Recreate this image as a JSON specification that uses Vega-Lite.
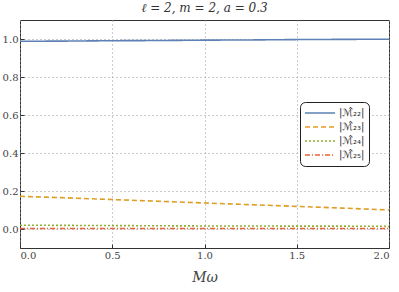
{
  "$schema": "https://vega.github.io/schema/vega-lite/v6.json",
  "width": 369,
  "height": 228,
  "autosize": "none",
  "padding": {"left": 20, "top": 20, "right": 10, "bottom": 44},
  "background": "white",
  "title": {"text": "ℓ = 2, m = 2, a = 0.3", "font": "DejaVu Serif", "fontStyle": "italic", "fontWeight": "normal", "fontSize": 12, "color": "#333", "offset": 5},
  "data": {"values": [
    {"x": 0, "y": 0.988, "s": "|ℳ̂₂₂|"}, {"x": 0.25, "y": 0.989, "s": "|ℳ̂₂₂|"}, {"x": 0.5, "y": 0.991, "s": "|ℳ̂₂₂|"}, {"x": 0.75, "y": 0.992, "s": "|ℳ̂₂₂|"}, {"x": 1.0, "y": 0.994, "s": "|ℳ̂₂₂|"}, {"x": 1.25, "y": 0.995, "s": "|ℳ̂₂₂|"}, {"x": 1.5, "y": 0.997, "s": "|ℳ̂₂₂|"}, {"x": 1.75, "y": 0.998, "s": "|ℳ̂₂₂|"}, {"x": 2.0, "y": 0.999, "s": "|ℳ̂₂₂|"},
    {"x": 0, "y": 0.172, "s": "|ℳ̂₂₃|"}, {"x": 0.25, "y": 0.164, "s": "|ℳ̂₂₃|"}, {"x": 0.5, "y": 0.155, "s": "|ℳ̂₂₃|"}, {"x": 0.75, "y": 0.146, "s": "|ℳ̂₂₃|"}, {"x": 1.0, "y": 0.137, "s": "|ℳ̂₂₃|"}, {"x": 1.25, "y": 0.128, "s": "|ℳ̂₂₃|"}, {"x": 1.5, "y": 0.119, "s": "|ℳ̂₂₃|"}, {"x": 1.75, "y": 0.110, "s": "|ℳ̂₂₃|"}, {"x": 2.0, "y": 0.100, "s": "|ℳ̂₂₃|"},
    {"x": 0, "y": 0.020, "s": "|ℳ̂₂₄|"}, {"x": 0.25, "y": 0.019, "s": "|ℳ̂₂₄|"}, {"x": 0.5, "y": 0.018, "s": "|ℳ̂₂₄|"}, {"x": 0.75, "y": 0.017, "s": "|ℳ̂₂₄|"}, {"x": 1.0, "y": 0.016, "s": "|ℳ̂₂₄|"}, {"x": 1.25, "y": 0.016, "s": "|ℳ̂₂₄|"}, {"x": 1.5, "y": 0.015, "s": "|ℳ̂₂₄|"}, {"x": 1.75, "y": 0.015, "s": "|ℳ̂₂₄|"}, {"x": 2.0, "y": 0.014, "s": "|ℳ̂₂₄|"},
    {"x": 0, "y": 0.003, "s": "|ℳ̂₂₅|"}, {"x": 0.5, "y": 0.003, "s": "|ℳ̂₂₅|"}, {"x": 1.0, "y": 0.003, "s": "|ℳ̂₂₅|"}, {"x": 1.5, "y": 0.003, "s": "|ℳ̂₂₅|"}, {"x": 2.0, "y": 0.003, "s": "|ℳ̂₂₅|"}
  ]},
  "mark": {"type": "line", "strokeWidth": 1.6, "clip": true},
  "encoding": {
    "x": {"field": "x", "type": "quantitative", "scale": {"domain": [0, 2], "nice": false},
      "axis": {"title": "Mω", "values": [0, 0.5, 1, 1.5, 2], "format": ".1f", "titlePadding": 10}},
    "y": {"field": "y", "type": "quantitative", "scale": {"domain": [-0.1, 1.1], "nice": false, "zero": false},
      "axis": {"title": null, "values": [0, 0.2, 0.4, 0.6, 0.8, 1.0], "format": ".1f"}},
    "color": {"field": "s", "type": "nominal", "sort": null,
      "scale": {"range": ["#5E81B5", "#E19C24", "#8FB032", "#EB6235"]},
      "legend": {"title": null, "orient": "none", "legendX": 280, "legendY": 82}},
    "strokeDash": {"field": "s", "type": "nominal", "sort": null,
      "scale": {"range": [[1, 0], [5, 3], [2, 2], [5, 2, 1, 2]]},
      "legend": {"title": null, "orient": "none", "legendX": 280, "legendY": 82}}
  },
  "config": {
    "view": {"stroke": "#333", "strokeWidth": 1},
    "axis": {
      "domain": false,
      "grid": true, "gridColor": "#999", "gridDash": [1, 3], "gridWidth": 1,
      "tickColor": "#333", "tickSize": -4, "labelPadding": 6,
      "labelFont": "DejaVu Serif", "labelFontSize": 10, "labelColor": "#444",
      "titleFont": "DejaVu Serif", "titleFontStyle": "italic", "titleFontWeight": "normal", "titleFontSize": 14, "titleColor": "#444"
    },
    "legend": {
      "symbolType": "stroke", "symbolSize": 900, "symbolStrokeWidth": 1.6,
      "clipHeight": 14,
      "labelFont": "DejaVu Sans", "labelFontSize": 10, "labelColor": "#333", "labelOffset": 3,
      "strokeColor": "#222", "cornerRadius": 5, "padding": 4, "rowPadding": 0,
      "fillColor": "white"
    }
  }
}
